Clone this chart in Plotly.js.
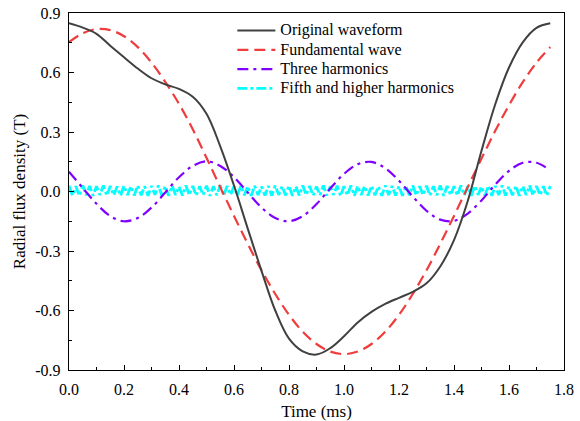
<!DOCTYPE html>
<html><head><meta charset="utf-8">
<script src="https://cdn.plot.ly/plotly-3.0.1.min.js"></script>
<style>html,body{margin:0;padding:0;background:#fff}#chart{width:580px;height:421px}</style>
</head><body><div id="chart"></div>
<script>
const time = [0,0.05,0.10,0.15,0.20,0.25,0.30,0.35,0.40,0.45,0.50,0.55,0.60,0.65,0.70,0.75,0.80,0.85,0.90,0.95,1.00,1.05,1.10,1.15,1.20,1.25,1.30,1.35,1.40,1.45,1.50,1.55,1.60,1.65,1.70,1.75];
const original = [0.848,0.826,0.795,0.735,0.677,0.620,0.571,0.540,0.517,0.478,0.392,0.228,0.030,-0.187,-0.400,-0.600,-0.742,-0.806,-0.822,-0.790,-0.730,-0.660,-0.607,-0.567,-0.536,-0.506,-0.463,-0.378,-0.245,-0.048,0.205,0.440,0.625,0.752,0.825,0.848];
const fundamental = [0.753,0.798,0.819,0.814,0.783,0.728,0.650,0.553,0.442,0.314,0.170,0.022,-0.123,-0.264,-0.397,-0.517,-0.622,-0.707,-0.769,-0.807,-0.820,-0.807,-0.769,-0.707,-0.622,-0.517,-0.397,-0.264,-0.123,0.022,0.166,0.306,0.435,0.551,0.650,0.728];
const third = [0.100,0.018,-0.062,-0.124,-0.150,-0.134,-0.081,-0.005,0.072,0.129,0.152,0.129,0.072,-0.005,-0.081,-0.134,-0.150,-0.124,-0.063,0.015,0.089,0.138,0.149,0.118,0.054,-0.025,-0.097,-0.142,-0.148,-0.111,-0.045,0.035,0.104,0.145,0.145,0.106];
const fifthStep = 0.0125;
const fifth = [
0.029,-0.020,0.027,-0.022,0.030,-0.019,0.028,-0.021,0.026,-0.018,
0.030,-0.021,0.028,-0.019,0.025,-0.022,0.029,-0.018,0.027,-0.020,
0.031,-0.019,0.026,-0.021,0.028,-0.017,0.030,-0.020,0.027,-0.022,
0.029,-0.018,0.025,-0.020,0.030,-0.019,0.028,-0.021,0.026,-0.018,
0.029,-0.022,0.027,-0.019,0.031,-0.020,0.028,-0.017,0.026,-0.021,
0.030,-0.019,0.027,-0.022,0.029,-0.018,0.025,-0.020,0.028,-0.021,
0.030,-0.017,0.027,-0.019,0.029,-0.022,0.026,-0.020,0.031,-0.018,
0.028,-0.021,0.025,-0.019,0.030,-0.020,0.027,-0.017,0.029,-0.022,
0.026,-0.019,0.030,-0.021,0.028,-0.018,0.027,-0.020,0.029,-0.019,
0.025,-0.022,0.030,-0.018,0.028,-0.020,0.027,-0.021,0.029,-0.019,
0.031,-0.020,0.026,-0.018,0.029,-0.021,0.027,-0.019,0.030,-0.022,
0.028,-0.018,0.026,-0.020,0.030,-0.019,0.027,-0.021,0.029,-0.017,
0.025,-0.020,0.029,-0.022,0.028,-0.018,0.030,-0.020,0.026,-0.019,
0.029,-0.021,0.027,-0.018,0.030,-0.020,0.028,-0.019,0.026,-0.021,
0.028];
const fifthTime = fifth.map((_, i) => +(i * fifthStep).toFixed(4));
const seriesNames = ['Original waveform','Fundamental wave','Three harmonics','Fifth and higher harmonics'];
const xTickVals = [0,0.2,0.4,0.6,0.8,1.0,1.2,1.4,1.6,1.8];
const xTickText = ['0.0','0.2','0.4','0.6','0.8','1.0','1.2','1.4','1.6','1.8'];
const yTickVals = [-0.9,-0.6,-0.3,0,0.3,0.6,0.9];
const yTickText = ['-0.9','-0.6','-0.3','0.0','0.3','0.6','0.9'];

const FONT = 'Liberation Serif';
const legendLabel = s => '<span style="font-size:16px">' + s + '</span>';
const traces = [
  {x: fifthTime, y: fifth, name: legendLabel(seriesNames[3]), legendrank: 4, mode: 'lines',
   line: {color: '#00FFFF', width: 2.8, dash: '10px,3px,3px,3px'}},
  {x: time, y: third, name: legendLabel(seriesNames[2]), legendrank: 3, mode: 'lines',
   line: {color: '#7F00FF', width: 2.2, dash: '11px,5px,3px,5px', shape: 'spline', smoothing: 1}},
  {x: time, y: fundamental, name: legendLabel(seriesNames[1]), legendrank: 2, mode: 'lines',
   line: {color: '#F03C3C', width: 2.2, dash: '11px,6px', shape: 'spline', smoothing: 1}},
  {x: time, y: original, name: legendLabel(seriesNames[0]), legendrank: 1, mode: 'lines',
   line: {color: '#404040', width: 2, shape: 'spline', smoothing: 1}}
];
const axisCommon = {
  showgrid: false, zeroline: false, showline: true, linecolor: '#000', linewidth: 1.3,
  mirror: true, ticks: 'inside', ticklen: 5, tickwidth: 1, tickcolor: '#000',
  tickfont: {family: FONT, size: 16, color: '#000'}
};
const layout = {
  width: 580, height: 421,
  margin: {l: 69, r: 16, t: 13, b: 51},
  paper_bgcolor: '#fff', plot_bgcolor: '#fff',
  font: {family: FONT, color: '#000'},
  showlegend: true,
  legend: {x: 0.33, y: 0.9916, xanchor: 'left', yanchor: 'top', bgcolor: 'rgba(0,0,0,0)',
    font: {family: FONT, size: 12.5, color: '#000'}, itemwidth: 38, traceorder: 'normal'},
  xaxis: Object.assign({}, axisCommon, {
    range: [0, 1.8], tickvals: xTickVals, ticktext: xTickText,
    minor: {dtick: 0.1, ticks: 'inside', ticklen: 3, tickcolor: '#000'},
    ticklabelstandoff: 4,
    title: {text: 'Time (ms)', font: {family: FONT, size: 17, color: '#000'}, standoff: 11}
  }),
  yaxis: Object.assign({}, axisCommon, {
    range: [-0.9, 0.9], tickvals: yTickVals, ticktext: yTickText,
    minor: {tickvals: [-0.75,-0.45,-0.15,0.15,0.45,0.75], ticks: 'inside', ticklen: 3, tickcolor: '#000'},
    ticklabelstandoff: 4,
    title: {text: 'Radial flux density (T)', font: {family: FONT, size: 17, color: '#000'}, standoff: 5}
  })
};
Plotly.newPlot('chart', traces, layout, {staticPlot: true, displayModeBar: false});
</script>
</body></html>
